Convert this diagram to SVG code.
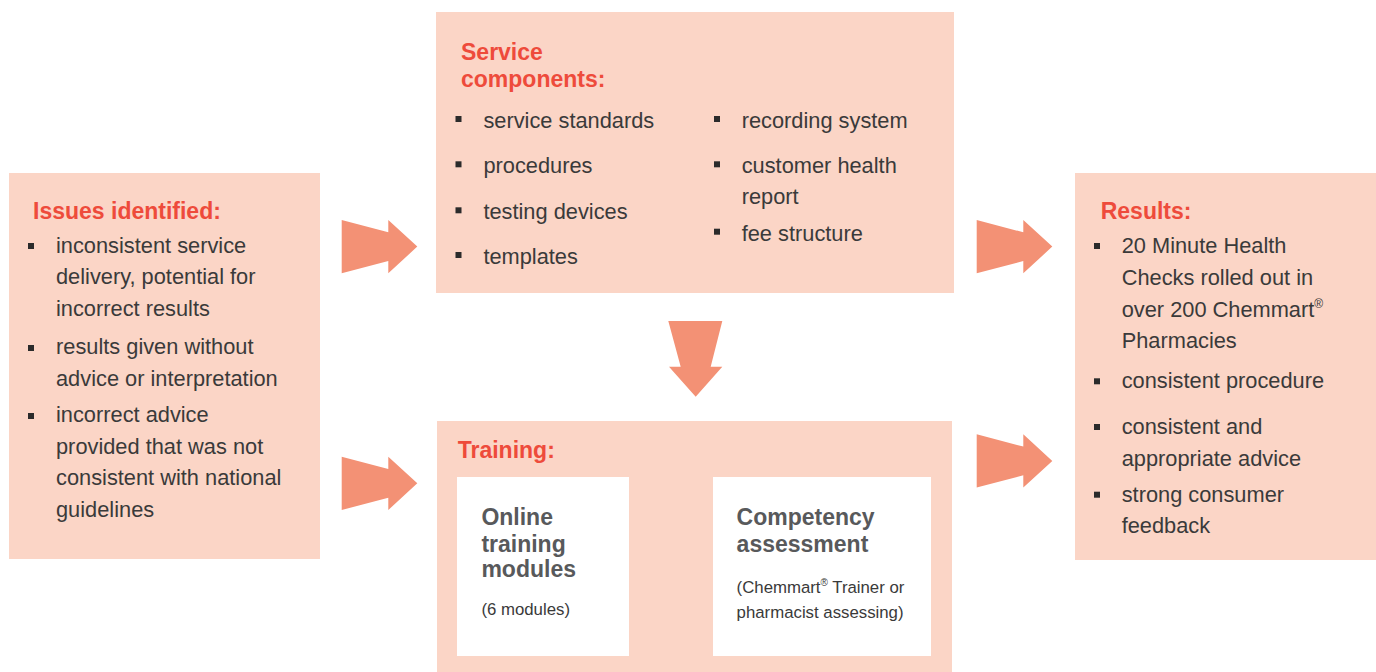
<svg xmlns="http://www.w3.org/2000/svg" width="1376" height="672" viewBox="0 0 1376 672">
  <defs>
    <style>
      .panel { fill: #fbd5c6; }
      .card { fill: #ffffff; }
      .arrow { fill: #f39175; }
      .title { font-family: "Liberation Sans", Arial, sans-serif; font-weight: bold; font-size: 23px; fill: #ee4b3b; }
      .body { font-family: "Liberation Sans", Arial, sans-serif; font-size: 21.8px; fill: #3a3a3a; }
      .head { font-family: "Liberation Sans", Arial, sans-serif; font-weight: bold; font-size: 23px; fill: #58595b; }
      .note { font-family: "Liberation Sans", Arial, sans-serif; font-size: 16.8px; fill: #3a3a3a; }
      .bullet { fill: #2b2b2b; }
    </style>
    <!-- block arrow pointing right, origin at its top-left corner -->
    <path id="arrowRight" d="M0,0 L46.6,12.3 L46.6,0 L75.6,26.6 L46.6,53.3 L46.6,41 L0,53.3 Z"/>
  </defs>

  <rect width="1376" height="672" fill="#ffffff"/>

  <!-- connectors -->
  <g id="connectors" class="arrow">
    <use href="#arrowRight" x="341.7" y="220"/>
    <use href="#arrowRight" x="341.7" y="456.7"/>
    <use href="#arrowRight" x="976.7" y="220"/>
    <use href="#arrowRight" x="976.7" y="434.3"/>
    <polygon points="668.3,321 722.3,321 710.7,366.7 722.3,366.7 695.7,396.7 669,366.7 680.7,366.7"/>
  </g>

  <!-- left panel -->
  <g id="issues">
    <rect class="panel" x="9" y="173" width="311" height="386"/>
    <text class="title" x="33" y="218.5">Issues identified:</text>
    <rect class="bullet" x="28" y="243" width="6" height="6"/>
    <rect class="bullet" x="28" y="345" width="6" height="6"/>
    <rect class="bullet" x="28" y="413" width="6" height="6"/>
    <text class="body">
      <tspan x="56" y="252.7">inconsistent service</tspan>
      <tspan x="56" y="284">delivery, potential for</tspan>
      <tspan x="56" y="315.7">incorrect results</tspan>
      <tspan x="56" y="354.3">results given without</tspan>
      <tspan x="56" y="386">advice or interpretation</tspan>
      <tspan x="56" y="422.3">incorrect advice</tspan>
      <tspan x="56" y="454">provided that was not</tspan>
      <tspan x="56" y="485.3">consistent with national</tspan>
      <tspan x="56" y="516.7">guidelines</tspan>
    </text>
  </g>

  <!-- top centre panel -->
  <g id="service-components">
    <rect class="panel" x="436" y="12" width="518" height="281"/>
    <text class="title">
      <tspan x="461" y="59.5">Service</tspan>
      <tspan x="461" y="86.8">components:</tspan>
    </text>
    <rect class="bullet" x="455.5" y="116" width="6" height="6"/>
    <rect class="bullet" x="455.5" y="161.3" width="6" height="6"/>
    <rect class="bullet" x="455.5" y="207.3" width="6" height="6"/>
    <rect class="bullet" x="455.5" y="252" width="6" height="6"/>
    <rect class="bullet" x="714" y="116" width="6" height="6"/>
    <rect class="bullet" x="714" y="161.3" width="6" height="6"/>
    <rect class="bullet" x="714" y="228.7" width="6" height="6"/>
    <text class="body">
      <tspan x="483.4" y="128.3">service standards</tspan>
      <tspan x="483.4" y="173.3">procedures</tspan>
      <tspan x="483.4" y="219.3">testing devices</tspan>
      <tspan x="483.4" y="264">templates</tspan>
      <tspan x="741.7" y="128.3">recording system</tspan>
      <tspan x="741.7" y="173.3">customer health</tspan>
      <tspan x="741.7" y="204.3">report</tspan>
      <tspan x="741.7" y="240.7">fee structure</tspan>
    </text>
  </g>

  <!-- bottom centre panel -->
  <g id="training">
    <rect class="panel" x="437" y="421" width="515" height="251"/>
    <text class="title" x="457.7" y="457.5">Training:</text>
    <g id="online-modules">
      <rect class="card" x="457" y="477" width="172" height="179"/>
      <text class="head">
        <tspan x="481.4" y="525">Online</tspan>
        <tspan x="481.4" y="551.7">training</tspan>
        <tspan x="481.4" y="577.3">modules</tspan>
      </text>
      <text class="note" x="481.4" y="614.5">(6 modules)</text>
    </g>
    <g id="competency-assessment">
      <rect class="card" x="713" y="477" width="218" height="179"/>
      <text class="head">
        <tspan x="736.6" y="525">Competency</tspan>
        <tspan x="736.6" y="551.7">assessment</tspan>
      </text>
      <text class="note">
        <tspan x="736.6" y="592.5">(Chemmart</tspan><tspan font-size="10" dy="-7">®</tspan><tspan dy="7"> Trainer or</tspan>
        <tspan x="736.6" y="618.3">pharmacist assessing)</tspan>
      </text>
    </g>
  </g>

  <!-- right panel -->
  <g id="results">
    <rect class="panel" x="1075" y="173" width="301" height="387"/>
    <text class="title" x="1100.7" y="219.3">Results:</text>
    <rect class="bullet" x="1094" y="243" width="6" height="6"/>
    <rect class="bullet" x="1094" y="378.3" width="6" height="6"/>
    <rect class="bullet" x="1094" y="424" width="6" height="6"/>
    <rect class="bullet" x="1094" y="491.7" width="6" height="6"/>
    <text class="body">
      <tspan x="1121.7" y="252.7">20 Minute Health</tspan>
      <tspan x="1121.7" y="285">Checks rolled out in</tspan>
      <tspan x="1121.7" y="316.7">over 200 Chemmart</tspan><tspan font-size="12" dy="-9">®</tspan>
      <tspan x="1121.7" y="347.7">Pharmacies</tspan>
      <tspan x="1121.7" y="388.3">consistent procedure</tspan>
      <tspan x="1121.7" y="434">consistent and</tspan>
      <tspan x="1121.7" y="465.7">appropriate advice</tspan>
      <tspan x="1121.7" y="501.7">strong consumer</tspan>
      <tspan x="1121.7" y="533.3">feedback</tspan>
    </text>
  </g>
</svg>
